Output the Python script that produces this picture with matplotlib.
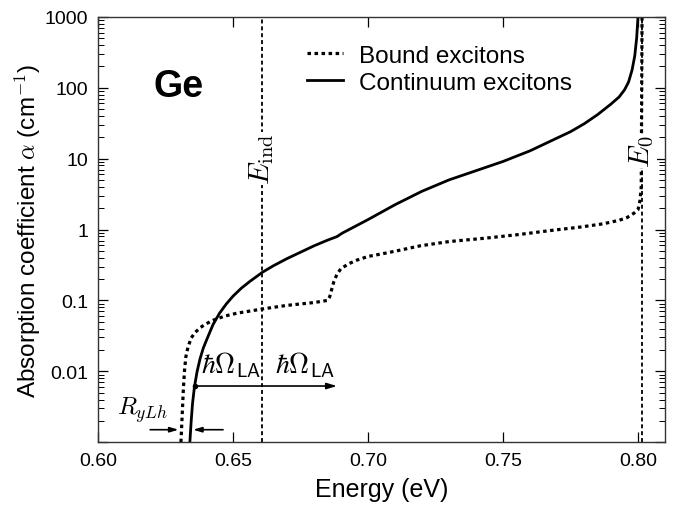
import numpy as np
import matplotlib
matplotlib.use('Agg')
import matplotlib.pyplot as plt
from matplotlib.ticker import LogLocator, NullFormatter

plt.rcParams['font.family'] = ['Liberation Sans', 'DejaVu Sans']
plt.rcParams['mathtext.fontset'] = 'cm'

# continuum excitons (solid line), log10 of alpha
cont_E = [0.6340, 0.6345, 0.6350, 0.6357, 0.6367, 0.6378, 0.6390, 0.6405, 0.6426,
          0.6450, 0.6475, 0.6500, 0.6530, 0.6563, 0.6610, 0.6650, 0.6700, 0.6750,
          0.6800, 0.6850, 0.6885, 0.6905, 0.6950, 0.7000, 0.7100, 0.7200, 0.7300,
          0.7400, 0.7500, 0.7600, 0.7700, 0.7750, 0.7800, 0.7850, 0.7900, 0.7930,
          0.7950, 0.7965, 0.7978, 0.7988, 0.7995, 0.8000]
cont_log_a = [-3.0, -2.7, -2.45, -2.22, -2.0, -1.82, -1.67, -1.53, -1.34,
              -1.18, -1.05, -0.94, -0.83, -0.73, -0.60, -0.51, -0.41, -0.32,
              -0.23, -0.15, -0.10, -0.05, 0.04, 0.14, 0.35, 0.54, 0.70,
              0.83, 0.96, 1.11, 1.29, 1.38, 1.49, 1.62, 1.77, 1.87,
              1.97, 2.08, 2.25, 2.45, 2.70, 3.0]

# bound excitons (dotted line)
bound_E = [0.6307, 0.6310, 0.6313, 0.6316, 0.6320, 0.6325, 0.6333, 0.6345, 0.6360,
           0.6380, 0.6400, 0.6426, 0.6470, 0.6515, 0.6563, 0.6610, 0.6700, 0.6800,
           0.6850, 0.6858, 0.6865, 0.6873, 0.6885, 0.6900, 0.6930, 0.6960, 0.7000,
           0.7056, 0.7120, 0.7193, 0.7300, 0.7440, 0.7560, 0.7685, 0.7787, 0.7870,
           0.7930, 0.7960, 0.7985, 0.8000, 0.8007, 0.8012, 0.8015]
bound_log_a = [-3.0, -2.75, -2.5, -2.25, -2.0, -1.8, -1.66, -1.53, -1.45,
               -1.38, -1.33, -1.28, -1.22, -1.18, -1.15, -1.12, -1.07, -1.03,
               -1.0, -0.95, -0.85, -0.74, -0.63, -0.55, -0.48, -0.43, -0.38,
               -0.34, -0.29, -0.23, -0.17, -0.12, -0.07, -0.01, 0.035, 0.08,
               0.13, 0.17, 0.23, 0.28, 0.40, 0.6, 3.0]

E_ind = 0.6607
E_0 = 0.8015

x_ticks = [0.60, 0.65, 0.70, 0.75, 0.80]
x_labels = ['0.60', '0.65', '0.70', '0.75', '0.80']
y_ticks = [0.001, 0.01, 0.1, 1, 10, 100, 1000]
y_labels = ['', '0.01', '0.1', '1', '10', '100', '1000']

fig = plt.figure(figsize=(6.81, 5.10), dpi=100)
ax = fig.add_axes([0.144, 0.131, 0.8325, 0.834])

ax.plot(bound_E, np.power(10.0, bound_log_a), color='black', lw=2.3,
        ls=(0, (1.1, 1.1)), label='Bound excitons')
ax.plot(cont_E, np.power(10.0, cont_log_a), color='black', lw=2.0, ls='-',
        label='Continuum excitons')

ax.axvline(E_ind, color='black', lw=1.3, ls=(0, (2.2, 1.6)))
ax.axvline(E_0, color='black', lw=1.3, ls=(0, (2.2, 1.6)))

ax.set_yscale('log')
ax.set_xlim(0.60, 0.81)
ax.set_ylim(0.001, 1000)

ax.set_xticks(x_ticks)
ax.set_xticklabels(x_labels)
ax.set_yticks(y_ticks)
ax.set_yticklabels(y_labels)
ax.yaxis.set_minor_locator(LogLocator(base=10, subs=np.arange(2, 10) * 1.0, numticks=20))
ax.yaxis.set_minor_formatter(NullFormatter())
ax.tick_params(which='major', direction='in', length=7, width=0.9,
               top=True, right=True, labelsize=14, pad=7)
ax.tick_params(which='minor', direction='in', length=4, width=0.7,
               top=False, right=True)
for s in ax.spines.values():
    s.set_linewidth(1.0)
    s.set_color('#333333')

ax.set_xlabel('Energy (eV)', fontsize=18, labelpad=6)
ax.set_ylabel(r'Absorption coefficient $\alpha$ (cm$^{\mathsf{-1}}$)', fontsize=17.5, labelpad=1)

ax.text(0.6300, 77, 'Ge', fontsize=27, fontweight='bold', ha='center', va='baseline')

ax.legend(loc='upper left', bbox_to_anchor=(0.368, 0.935), frameon=False,
          fontsize=17.5, handlelength=1.5, handletextpad=0.65, labelspacing=0.22,
          borderpad=0, borderaxespad=0)

ax.text(E_ind, 10, r'$E_{\rm ind}$', rotation=90, fontsize=21, ha='center', va='center',
        bbox=dict(facecolor='white', edgecolor='none', pad=0.5))
ax.text(E_0, 13, r'$E_0$', rotation=90, fontsize=21, ha='center', va='center',
        bbox=dict(facecolor='white', edgecolor='none', pad=0.5))

# phonon energy arrow
ax.annotate('', xy=(0.6885, 0.0062), xytext=(0.6355, 0.0062),
            arrowprops=dict(arrowstyle='-|>,head_length=0.6,head_width=0.18',
                            lw=1.2, color='black', shrinkA=0, shrinkB=0))
ax.plot([0.6358], [0.0062], marker='o', ms=3, color='black')
ax.text(0.6492, 0.0098, r'$\hbar\Omega_{\mathsf{LA}}$', fontsize=20, ha='center', va='baseline')
ax.text(0.6767, 0.0098, r'$\hbar\Omega_{\mathsf{LA}}$', fontsize=20, ha='center', va='baseline')

# Rydberg arrows
ax.annotate('', xy=(0.6298, 0.0015), xytext=(0.6193, 0.0015),
            arrowprops=dict(arrowstyle='-|>,head_length=0.5,head_width=0.15',
                            lw=1.2, color='black', shrinkA=0, shrinkB=0))
ax.annotate('', xy=(0.6352, 0.0015), xytext=(0.6463, 0.0015),
            arrowprops=dict(arrowstyle='-|>,head_length=0.5,head_width=0.15',
                            lw=1.2, color='black', shrinkA=0, shrinkB=0))
ax.text(0.6163, 0.0025, r'$R_{yLh}$', fontsize=18, ha='center', va='baseline')

fig.savefig('out.png', dpi=100)
